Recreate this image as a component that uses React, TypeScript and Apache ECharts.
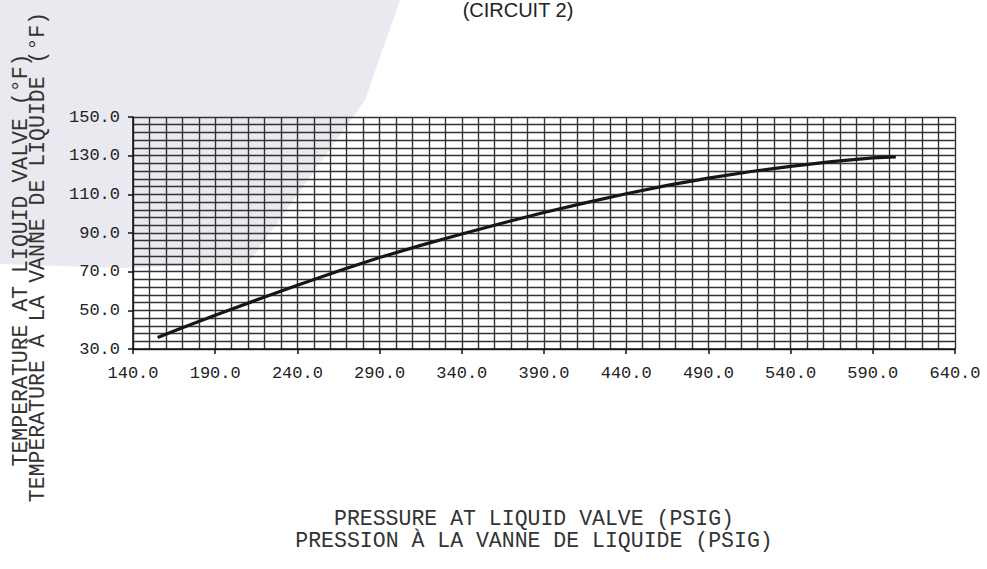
import React, { useEffect, useRef } from "react";
import * as echarts from "echarts";

// ---- data ----
const pressure = [155, 170, 190, 215, 240, 265, 290, 315, 340, 365, 390, 415, 440, 465, 490, 515, 540, 565, 590, 604];
const temperature = [36, 41, 47.5, 55.3, 63, 70.3, 77.3, 83.6, 89.5, 95.2, 100.6, 105.6, 110.3, 114.6, 118.4, 121.7, 124.5, 126.9, 128.9, 129.4];
const xTickLabels = [140, 190, 240, 290, 340, 390, 440, 490, 540, 590, 640];
const yTickLabels = [30, 50, 70, 90, 110, 130, 150];
const titleText = "(CIRCUIT 2)";
const xTitleLines = ["PRESSURE AT LIQUID VALVE (PSIG)", "PRESSION À LA VANNE DE LIQUIDE (PSIG)"];
const yTitleLines = ["TEMPERATURE AT LIQUID VALVE (°F)", "TEMPÉRATURE À LA VANNE DE LIQUIDE (°F)"];

const MONO = "'Liberation Mono', 'DejaVu Sans Mono', monospace";

export default function App() {
  const ref = useRef<HTMLDivElement>(null);
  useEffect(() => {
    if (!ref.current) return;
    const chart = echarts.init(ref.current, undefined, { renderer: "svg" });
    const fmt = (v: number) => (typeof v === "number" ? v.toFixed(1) : String(v));
    const gridLine = { show: true, lineStyle: { color: "#333", width: 1.4 } };
    chart.setOption({
      animation: false,
      backgroundColor: "#ffffff",
      grid: { left: 133, right: 32, top: 117, bottom: 220, containLabel: false },
      xAxis: [
        {
          type: "value",
          min: 140,
          max: 640,
          interval: 10,
          axisLine: { show: true, lineStyle: { color: "#111", width: 1.5 } },
          axisTick: {
            show: true,
            inside: false,
            length: 5,
            customValues: xTickLabels,
            lineStyle: { color: "#111", width: 1.5 },
          },
          axisLabel: {
            show: true,
            customValues: xTickLabels,
            formatter: (v: number) => (xTickLabels.indexOf(v) >= 0 ? fmt(v) : ""),
            margin: 16,
            fontFamily: MONO,
            fontSize: 17,
            color: "#222",
          },
          splitLine: { show: false },
        },
        {
          // helper axis only for vertical grid lines every 10 psig (140..640)
          type: "value",
          position: "bottom",
          min: 0,
          max: 500,
          interval: 10,
          axisLine: { show: false },
          axisTick: { show: false },
          axisLabel: { show: false },
          splitLine: gridLine,
        },
      ],
      yAxis: [
        {
          type: "value",
          min: 30,
          max: 150,
          interval: 10,
          axisLine: { show: true, lineStyle: { color: "#111", width: 1.5 } },
          axisTick: {
            show: true,
            inside: false,
            length: 5,
            customValues: yTickLabels,
            lineStyle: { color: "#111", width: 1.5 },
          },
          axisLabel: {
            show: true,
            customValues: yTickLabels,
            formatter: (v: number) => (yTickLabels.indexOf(v) >= 0 ? fmt(v) : ""),
            margin: 13,
            fontFamily: MONO,
            fontSize: 17,
            color: "#222",
          },
          splitLine: { show: false },
        },
        {
          // helper axis only for horizontal grid lines every 4 units (30..150)
          type: "value",
          position: "left",
          min: 0,
          max: 120,
          interval: 4,
          axisLine: { show: false },
          axisTick: { show: false },
          axisLabel: { show: false },
          splitLine: gridLine,
        },
      ],
      series: [
        {
          type: "line",
          xAxisIndex: 0,
          yAxisIndex: 0,
          data: pressure.map((p, i) => [p, temperature[i]]),
          showSymbol: false,
          smooth: false,
          lineStyle: { color: "#161616", width: 3.2 },
          z: 10,
        },
      ],
      graphic: [
        {
          type: "polygon",
          z: -10,
          silent: true,
          shape: { points: [[0, 0], [400, 0], [365, 100], [248, 264], [120, 268], [0, 264]] },
          style: { fill: "#e9e9ef" },
        },
        {
          type: "text",
          x: 518,
          y: 10,
          style: {
            text: titleText,
            font: "20px 'Liberation Sans', Arial, sans-serif",
            fill: "#222",
            align: "center",
            verticalAlign: "middle",
            textAlign: "center",
            textVerticalAlign: "middle",
          },
        },
        ...xTitleLines.map((t, i) => ({
          type: "text",
          x: 534,
          y: 519 + i * 22,
          style: {
            text: t,
            font: `21.5px ${MONO}`,
            fill: "#333",
            align: "center",
            verticalAlign: "middle",
            textAlign: "center",
            textVerticalAlign: "middle",
          },
        })),
        ...yTitleLines.map((t, i) => ({
          type: "text",
          x: 21 + i * 17,
          y: 260 - i * 3,
          rotation: Math.PI / 2,
          style: {
            text: t,
            font: `21.5px ${MONO}`,
            fill: "#333",
            align: "center",
            verticalAlign: "middle",
            textAlign: "center",
            textVerticalAlign: "middle",
          },
        })),
      ],
    });
    return () => chart.dispose();
  }, []);
  return (
    <div
      ref={ref}
      style={{ position: "fixed", left: 0, top: 0, width: 987, height: 569, background: "#fff" }}
    />
  );
}
